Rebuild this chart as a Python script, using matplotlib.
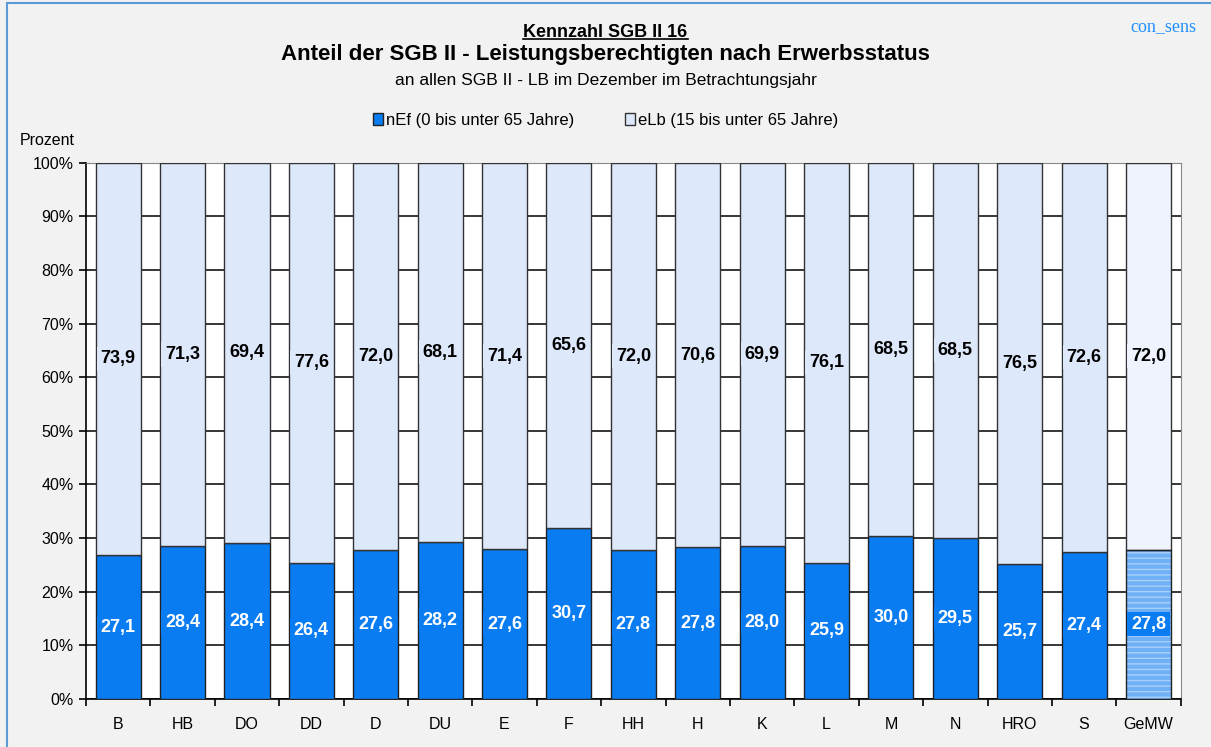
import numpy as np
import matplotlib
matplotlib.use("Agg")
import matplotlib.pyplot as plt
from matplotlib.patches import Rectangle, Patch

plt.rcParams['font.family'] = ['Liberation Sans', 'DejaVu Sans']

kategorien = ['B', 'HB', 'DO', 'DD', 'D', 'DU', 'E', 'F', 'HH', 'H', 'K', 'L', 'M', 'N', 'HRO', 'S', 'GeMW']
nef = [27.1, 28.4, 28.4, 26.4, 27.6, 28.2, 27.6, 30.7, 27.8, 27.8, 28.0, 25.9, 30.0, 29.5, 25.7, 27.4, 27.8]
elb = [73.9, 71.3, 69.4, 77.6, 72.0, 68.1, 71.4, 65.6, 72.0, 70.6, 69.9, 76.1, 68.5, 68.5, 76.5, 72.6, 72.0]

blau = '#0a7cf2'
hellblau = '#dde8fb'

# 100%-gestapelt wie in Excel
nef_a = np.array(nef)
elb_a = np.array(elb)
summe = nef_a + elb_a
nef_p = nef_a / summe * 100
elb_p = elb_a / summe * 100

fig = plt.figure(figsize=(12.11, 7.47), dpi=100, facecolor='#f2f2f2')
fig.patches.append(Rectangle((0.006, -0.01), 1.1, 1.006, transform=fig.transFigure,
                             fill=False, edgecolor='#5b9bd5', linewidth=1.5))
ax = fig.add_axes([0.071, 0.0643, 0.904, 0.718])

x = np.arange(len(kategorien))
b = 0.70
n = len(kategorien) - 1

ax.bar(x[:n], nef_p[:n], b, color=blau, edgecolor='#222222', linewidth=1, zorder=3)
ax.bar(x[:n], elb_p[:n], b, bottom=nef_p[:n], color=hellblau, edgecolor='#333333', linewidth=1, zorder=3)

# Gesamtmittelwert gestreift
ax.bar(x[n], nef_p[n], b, color='#6fb0f6', hatch='---', edgecolor='#a9d0fa', linewidth=0, zorder=3)
ax.bar(x[n], nef_p[n], b, fill=False, edgecolor='#222222', linewidth=1, zorder=4)
ax.bar(x[n], elb_p[n], b, bottom=nef_p[n], color='#eef3fe', edgecolor='#333333', linewidth=1, zorder=3)

for i in range(len(kategorien)):
    ax.text(x[i], nef_p[i] / 2, f"{nef[i]:.1f}".replace('.', ','), ha='center', va='center',
            color='white', fontsize=13, fontweight='bold', zorder=5,
            bbox=dict(boxstyle='square,pad=0.2', fc=blau, ec='none'))
    ax.text(x[i], nef_p[i] + elb_p[i] / 2, f"{elb[i]:.1f}".replace('.', ','), ha='center', va='center',
            color='black', fontsize=13, fontweight='bold', zorder=5,
            bbox=dict(boxstyle='square,pad=0.2', fc=hellblau if i < n else '#eef3fe', ec='none'))

ax.set_xlim(-0.5, len(kategorien) - 0.5)
ax.set_ylim(0, 100)
ax.set_yticks(np.arange(0, 101, 10))
ax.set_yticklabels([f"{v}%" for v in range(0, 101, 10)], fontsize=11.5)
ax.set_xticks(x)
ax.set_xticklabels(kategorien, fontsize=11.5)
ax.set_xticks(np.arange(-0.5, len(kategorien)), minor=True)
ax.tick_params(axis='x', which='major', length=0, pad=13)
ax.tick_params(axis='x', which='minor', length=5, width=1.2)
ax.tick_params(axis='y', length=5, width=1.2, pad=4)
ax.grid(axis='y', color='black', linewidth=1.1, zorder=1)
ax.set_axisbelow(True)
for s in ['left', 'bottom']:
    ax.spines[s].set_linewidth(1.2)
for s in ['top', 'right']:
    ax.spines[s].set_color('#888888')

titel = fig.text(0.5, 0.957, 'Kennzahl SGB II 16', ha='center', va='center', fontsize=13,
                 fontweight='bold')
fig.text(0.5, 0.927, 'Anteil der SGB II - Leistungsberechtigten nach Erwerbsstatus', ha='center',
         va='center', fontsize=16, fontweight='bold')
fig.text(0.5, 0.892, 'an allen SGB II - LB im Dezember im Betrachtungsjahr', ha='center',
         va='center', fontsize=12.5)
fig.text(0.988, 0.965, 'con_sens', ha='right', va='center', fontsize=13,
         family='Liberation Serif', color='#1f8fff')
fig.text(0.016, 0.812, 'Prozent', ha='left', va='center', fontsize=11.5)

# Unterstreichung der Kennzahl
fig.canvas.draw()
bb = titel.get_window_extent().transformed(fig.transFigure.inverted())
fig.add_artist(plt.Line2D([bb.x0, bb.x1], [bb.y0 + 0.002, bb.y0 + 0.002], color='black',
                          linewidth=1.2, transform=fig.transFigure))

fig.legend(handles=[Patch(facecolor=blau, edgecolor='#222222', label='nEf (0 bis unter 65 Jahre)'),
                    Patch(facecolor=hellblau, edgecolor='#333333', label='eLb (15 bis unter 65 Jahre)')],
           loc='center', bbox_to_anchor=(0.5, 0.839), ncol=2, frameon=False, fontsize=12,
           handlelength=0.6, handleheight=0.8, handletextpad=0.2, columnspacing=3.0)

fig.savefig('out.png', dpi=100, facecolor=fig.get_facecolor())
